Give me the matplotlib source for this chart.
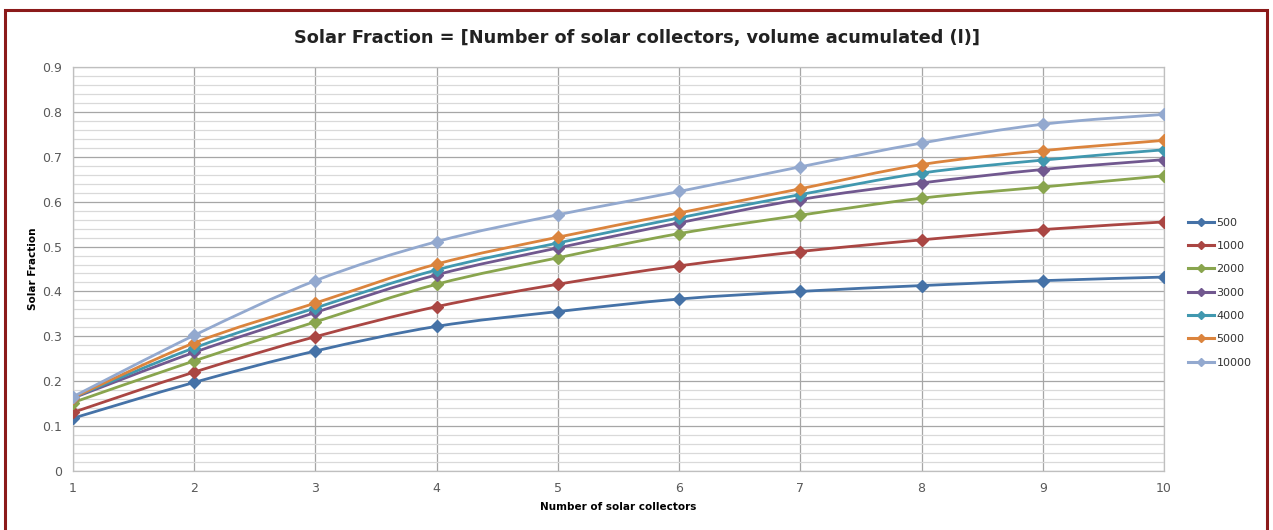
import numpy as np
import matplotlib
matplotlib.use("Agg")
import matplotlib.pyplot as plt
from matplotlib.path import Path
from matplotlib.patches import PathPatch, Rectangle
from matplotlib.lines import Line2D

# number of solar collectors
collectors = [1, 2, 3, 4, 5, 6, 7, 8, 9, 10]

# solar fraction per accumulated volume (l)
sf_500 = [0.117, 0.197, 0.267, 0.322, 0.355, 0.383, 0.400, 0.413, 0.424, 0.432]
sf_1000 = [0.130, 0.220, 0.299, 0.366, 0.416, 0.457, 0.489, 0.515, 0.538, 0.555]
sf_2000 = [0.152, 0.245, 0.332, 0.416, 0.475, 0.529, 0.570, 0.608, 0.633, 0.658]
sf_3000 = [0.162, 0.264, 0.353, 0.437, 0.497, 0.553, 0.605, 0.642, 0.672, 0.694]
sf_4000 = [0.163, 0.274, 0.363, 0.448, 0.508, 0.564, 0.616, 0.664, 0.693, 0.716]
sf_5000 = [0.163, 0.285, 0.374, 0.461, 0.521, 0.575, 0.629, 0.683, 0.714, 0.737]
sf_10000 = [0.165, 0.302, 0.424, 0.511, 0.571, 0.623, 0.678, 0.731, 0.773, 0.795]

labels = ["500", "1000", "2000", "3000", "4000", "5000", "10000"]
series = [sf_500, sf_1000, sf_2000, sf_3000, sf_4000, sf_5000, sf_10000]
colors = ["#4572A7", "#AA4643", "#89A54E", "#71588F", "#4198AF", "#DB843D", "#93A9CF"]


def smooth_path(x, y):
    # excel-like smoothed line: cubic bezier segments through the points
    p = np.column_stack([x, y]).astype(float)
    ext = np.vstack([p[0], p, p[-1]])
    verts = [tuple(p[0])]
    codes = [Path.MOVETO]
    for i in range(len(p) - 1):
        p0, p1, p2, p3 = ext[i], ext[i + 1], ext[i + 2], ext[i + 3]
        c1 = p1 + (p2 - p0) / 6.0
        c2 = p2 - (p3 - p1) / 6.0
        verts += [tuple(c1), tuple(c2), tuple(p2)]
        codes += [Path.CURVE4] * 3
    return Path(verts, codes)


fig = plt.figure(figsize=(12.73, 5.30), dpi=100)
fig.patches.append(Rectangle((5 / 1273, -0.05), 1262 / 1273, 1 - 10 / 530 + 0.05,
                             transform=fig.transFigure, fill=False,
                             edgecolor="#8B1A1A", linewidth=2.2))

ax = fig.add_axes([0.0573, 0.1119, 0.8571, 0.7611])

for vals, lab, col in zip(series, labels, colors):
    ax.add_patch(PathPatch(smooth_path(collectors, vals), fill=False,
                           edgecolor=col, linewidth=2.0, zorder=3))
    ax.plot(collectors, vals, linestyle="none", marker="D", markersize=6,
            color=col, zorder=4)

ax.set_xlim(1, 10)
ax.set_ylim(0, 0.9)
ax.set_xticks(collectors)
ax.set_yticks(np.arange(0, 0.91, 0.1))
ax.set_yticklabels(["0"] + ["%.1f" % v for v in np.arange(0.1, 0.91, 0.1)])
ax.set_yticks(np.arange(0, 0.9, 0.02), minor=True)
ax.grid(True, which="major", color="#a6a6a6", linewidth=0.9)
ax.grid(True, which="minor", axis="y", color="#d9d9d9", linewidth=0.9)
ax.set_axisbelow(True)
for s in ax.spines.values():
    s.set_color("#bfbfbf")
    s.set_linewidth(0.9)
ax.tick_params(which="both", length=0, labelsize=9, colors="#595959", pad=8)

ax.set_xlabel("Number of solar collectors", fontsize=7.5, fontweight="bold", labelpad=5)
ax.set_ylabel("Solar Fraction", fontsize=7.5, fontweight="bold", labelpad=3)

fig.text(0.5 * (295 + 980) / 1273, 1 - 38 / 530,
         "Solar Fraction = [Number of solar collectors, volume acumulated (l)]",
         ha="center", va="center", fontsize=12.8, fontweight="bold", color="#222222")

handles = [Line2D([], [], color=c, linewidth=2.2, marker="D", markersize=4.5) for c in colors]
fig.legend(handles, labels, loc="center left", bbox_to_anchor=(0.933, 0.448),
           frameon=False, fontsize=8, labelspacing=1.2, handlelength=2.4,
           handletextpad=0.2, borderaxespad=0, borderpad=0, labelcolor="#333333")

fig.savefig("out.png", dpi=100)
